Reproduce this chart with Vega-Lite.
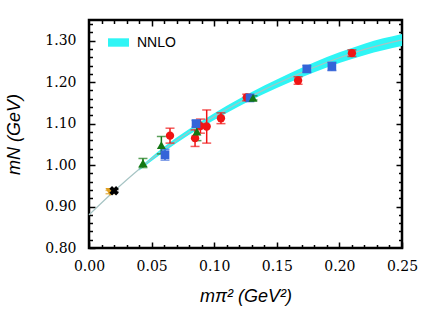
{
  "$schema": "https://vega.github.io/schema/vega-lite/v6.json",
  "width": 313,
  "height": 228,
  "autosize": {"type": "none"},
  "padding": {"left": 89, "top": 20, "right": 34, "bottom": 86},
  "background": "white",
  "config": {
    "view": {"stroke": "black", "strokeWidth": 2.5},
    "axis": {
      "grid": false,
      "domain": false,
      "labelFlush": false,
      "labelFont": "DejaVu Serif",
      "labelFontSize": 14,
      "labelColor": "black",
      "titleFont": "Liberation Sans",
      "titleFontSize": 18,
      "titleFontStyle": "italic",
      "titleFontWeight": "normal",
      "titleColor": "black",
      "tickColor": "black",
      "tickWidth": 1.5
    }
  },
  "datasets": {
    "pts": [
      {"x": 0.0647, "y": 1.071, "e": 0.018, "s": "red"},
      {"x": 0.0847, "y": 1.065, "e": 0.020, "s": "red"},
      {"x": 0.0890, "y": 1.094, "e": 0.017, "s": "red"},
      {"x": 0.0940, "y": 1.093, "e": 0.040, "s": "red"},
      {"x": 0.1054, "y": 1.113, "e": 0.013, "s": "red"},
      {"x": 0.1260, "y": 1.163, "e": 0.008, "s": "red"},
      {"x": 0.1670, "y": 1.204, "e": 0.009, "s": "red"},
      {"x": 0.2100, "y": 1.270, "e": 0.008, "s": "red"},
      {"x": 0.0607, "y": 1.025, "e": 0.013, "s": "blue"},
      {"x": 0.0855, "y": 1.100, "e": 0.008, "s": "blue"},
      {"x": 0.1286, "y": 1.162, "e": 0.006, "s": "blue"},
      {"x": 0.1740, "y": 1.232, "e": 0.008, "s": "blue"},
      {"x": 0.1940, "y": 1.238, "e": 0.010, "s": "blue"},
      {"x": 0.0431, "y": 1.005, "e": 0.011, "s": "green"},
      {"x": 0.0578, "y": 1.048, "e": 0.021, "s": "green"},
      {"x": 0.0862, "y": 1.081, "e": 0.022, "s": "green"},
      {"x": 0.1310, "y": 1.162, "e": 0.005, "s": "green"},
      {"x": 0.0168, "y": 0.935, "e": 0.004, "s": "gold"},
      {"x": 0.0200, "y": 0.938, "e": 0.003, "s": "black"}
    ],
    "curve": [
      {"x": 0.00, "y": 0.880},
      {"x": 0.02, "y": 0.937},
      {"x": 0.04, "y": 0.990},
      {"x": 0.06, "y": 1.038},
      {"x": 0.08, "y": 1.080},
      {"x": 0.10, "y": 1.117},
      {"x": 0.12, "y": 1.151},
      {"x": 0.14, "y": 1.182},
      {"x": 0.16, "y": 1.210},
      {"x": 0.18, "y": 1.236},
      {"x": 0.20, "y": 1.259},
      {"x": 0.22, "y": 1.279},
      {"x": 0.25, "y": 1.302}
    ],
    "band": [
      {"x": 0.04, "lo": 0.987, "hi": 0.993},
      {"x": 0.06, "lo": 1.032, "hi": 1.044},
      {"x": 0.08, "lo": 1.073, "hi": 1.087},
      {"x": 0.10, "lo": 1.109, "hi": 1.125},
      {"x": 0.12, "lo": 1.142, "hi": 1.160},
      {"x": 0.14, "lo": 1.172, "hi": 1.192},
      {"x": 0.16, "lo": 1.199, "hi": 1.221},
      {"x": 0.18, "lo": 1.224, "hi": 1.248},
      {"x": 0.20, "lo": 1.246, "hi": 1.272},
      {"x": 0.22, "lo": 1.265, "hi": 1.293},
      {"x": 0.25, "lo": 1.287, "hi": 1.316}
    ]
  },
  "resolve": {"axis": {"x": "independent", "y": "independent"}},
  "layer": [
    {
      "data": {"name": "band"},
      "mark": {"type": "area", "opacity": 1, "interpolate": "monotone"},
      "encoding": {
        "x": {"field": "x", "type": "quantitative", "scale": {"domain": [0, 0.25], "nice": false, "zero": false},
              "axis": {"orient": "bottom", "values": [0.01,0.02,0.03,0.04,0.06,0.07,0.08,0.09,0.11,0.12,0.13,0.14,0.16,0.17,0.18,0.19,0.21,0.22,0.23,0.24], "labels": false, "tickSize": -3.5, "title": null}},
        "y": {"field": "lo", "type": "quantitative", "scale": {"domain": [0.8, 1.35], "nice": false, "zero": false},
              "axis": {"orient": "left", "values": [0.82,0.84,0.86,0.88,0.92,0.94,0.96,0.98,1.02,1.04,1.06,1.08,1.12,1.14,1.16,1.18,1.22,1.24,1.26,1.28,1.32,1.34], "labels": false, "tickSize": -3.5, "title": null}},
        "y2": {"field": "hi"},
        "fill": {"datum": "NNLO", "type": "nominal", "scale": {"range": ["#2ff5f5"]},
                 "legend": {"title": null, "orient": "none", "legendX": 19, "legendY": 12,
                            "symbolType": "M-1,-0.4H1V0.4H-1Z", "symbolSize": 441, "symbolStrokeWidth": 0,
                            "labelFont": "Liberation Sans", "labelFontSize": 14, "labelColor": "black", "labelOffset": 8}}
      }
    },
    {
      "data": {"name": "curve"},
      "mark": {"type": "line", "color": "#a6c4c4", "strokeWidth": 1.2, "interpolate": "monotone"},
      "encoding": {
        "x": {"field": "x", "type": "quantitative",
              "axis": {"orient": "top", "values": [0.01,0.02,0.03,0.04,0.06,0.07,0.08,0.09,0.11,0.12,0.13,0.14,0.16,0.17,0.18,0.19,0.21,0.22,0.23,0.24], "labels": false, "tickSize": -3.5, "title": null}},
        "y": {"field": "y", "type": "quantitative",
              "axis": {"orient": "right", "values": [0.82,0.84,0.86,0.88,0.92,0.94,0.96,0.98,1.02,1.04,1.06,1.08,1.12,1.14,1.16,1.18,1.22,1.24,1.26,1.28,1.32,1.34], "labels": false, "tickSize": -3.5, "title": null}}
      }
    },
    {
      "data": {"name": "pts"},
      "transform": [{"calculate": "datum.y - datum.e", "as": "lo"}, {"calculate": "datum.y + datum.e", "as": "hi"}],
      "mark": {"type": "rule", "strokeWidth": 1.5},
      "encoding": {
        "x": {"field": "x", "type": "quantitative",
              "axis": {"orient": "top", "values": [0.05, 0.1, 0.15, 0.2], "labels": false, "tickSize": -6, "title": null}},
        "y": {"field": "lo", "type": "quantitative",
              "axis": {"orient": "right", "values": [0.9, 1.0, 1.1, 1.2, 1.3], "labels": false, "tickSize": -6, "title": null}},
        "y2": {"field": "hi"},
        "color": {"field": "s", "type": "nominal", "legend": null,
                  "scale": {"domain": ["red", "blue", "green", "gold", "black"], "range": ["#f01414", "#3464d8", "#147814", "#e0a020", "#000000"]}}
      }
    },
    {
      "data": {"name": "pts"},
      "transform": [{"calculate": "datum.y - datum.e", "as": "lo"}, {"calculate": "datum.y + datum.e", "as": "hi"}],
      "mark": {"type": "tick", "orient": "horizontal", "thickness": 1.5, "size": 9},
      "encoding": {
        "x": {"field": "x", "type": "quantitative", "axis": null},
        "y": {"field": "lo", "type": "quantitative", "axis": null},
        "color": {"field": "s", "type": "nominal", "legend": null}
      }
    },
    {
      "data": {"name": "pts"},
      "transform": [{"calculate": "datum.y - datum.e", "as": "lo"}, {"calculate": "datum.y + datum.e", "as": "hi"}],
      "mark": {"type": "tick", "orient": "horizontal", "thickness": 1.5, "size": 9},
      "encoding": {
        "x": {"field": "x", "type": "quantitative", "axis": null},
        "y": {"field": "hi", "type": "quantitative", "axis": null},
        "color": {"field": "s", "type": "nominal", "legend": null}
      }
    },
    {
      "data": {"name": "pts"},
      "mark": {"type": "point", "filled": true, "opacity": 1},
      "encoding": {
        "x": {"field": "x", "type": "quantitative",
              "axis": {"orient": "bottom", "values": [0, 0.05, 0.1, 0.15, 0.2, 0.25], "format": ".2f", "tickSize": -6, "labelPadding": 17,
                       "title": "mπ² (GeV²)", "titlePadding": 14}},
        "y": {"field": "y", "type": "quantitative",
              "axis": {"orient": "left", "values": [0.8, 0.9, 1.0, 1.1, 1.2, 1.3], "format": ".2f", "tickSize": -6, "labelPadding": 19,
                       "title": "mN (GeV)", "titlePadding": 21}},
        "color": {"field": "s", "type": "nominal", "legend": null},
        "shape": {"field": "s", "type": "nominal", "legend": null,
                  "scale": {"domain": ["red", "blue", "green", "gold", "black"], "range": ["circle", "square", "triangle-up", "triangle-down", "cross"]}},
        "size": {"field": "s", "type": "nominal", "legend": null,
                 "scale": {"domain": ["red", "blue", "green", "gold", "black"], "range": [70, 90, 50, 45, 55]}},
        "angle": {"condition": {"test": "datum.s === 'black'", "value": 45}, "value": 0}
      }
    }
  ]
}
